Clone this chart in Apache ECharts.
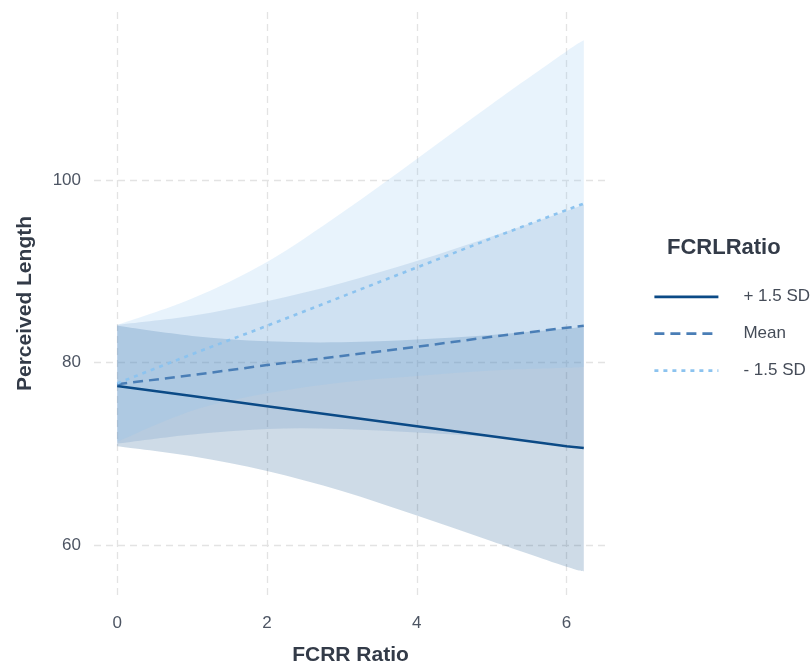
<!DOCTYPE html>
<html>
<head>
<meta charset="utf-8">
<style>
  html, body { margin: 0; padding: 0; background: #ffffff; }
  #chart { width: 812px; height: 671px; }
</style>
<script src="https://cdn.jsdelivr.net/npm/echarts@6/dist/echarts.min.js"></script>
</head>
<body>
<div id="chart"></div>
<script>
// FCRR ratio sample positions
const fcrr = [0, 1, 2, 3, 4, 5, 6, 6.23];

// Predicted perceived length per FCRL level
const plusFit  = [77.4, 76.3, 75.2, 74.1, 73.0, 71.9, 70.8, 70.6];
const meanFit  = [77.6, 78.6, 79.7, 80.7, 81.7, 82.8, 83.8, 84.0];
const minusFit = [77.7, 80.9, 84.0, 87.2, 90.4, 93.6, 96.7, 97.4];

// Confidence band limits
const plusLow   = [70.8, 69.7, 68.1, 65.9, 63.2, 60.4, 57.6, 57.1];
const plusHigh  = [84.0, 82.9, 82.3, 82.2, 82.5, 83.0, 83.7, 83.9];
const meanLow   = [71.1, 72.1, 72.7, 72.7, 72.3, 71.8, 71.0, 70.7];
const meanHigh  = [84.1, 85.1, 86.7, 88.7, 91.1, 93.8, 96.6, 97.3];
const minusLow  = [71.3, 74.7, 76.6, 77.8, 78.5, 79.1, 79.4, 79.5];
const minusHigh = [84.1, 87.0, 91.0, 96.4, 102.3, 108.3, 114.1, 115.3];

const xTicks = [0, 2, 4, 6];
const yTicks = [60, 80, 100];
const levelNames = ['+ 1.5 SD', 'Mean', '- 1.5 SD'];

const FONT = "'Liberation Sans', Arial, sans-serif";
const colors = {
  plus:  '#0b4a86',
  mean:  '#4a7eb6',
  minus: '#8cc3ef'
};

function pairs(ys) { return fcrr.map((x, i) => [x, ys[i]]); }

// Smooth pixel-space curve through points (Catmull-Rom as cubic Beziers)
function curveTo(pts, start) {
  let d = start ? 'M' + pts[0][0] + ' ' + pts[0][1] : 'L' + pts[0][0] + ' ' + pts[0][1];
  for (let i = 0; i < pts.length - 1; i++) {
    const p0 = pts[Math.max(i - 1, 0)];
    const p1 = pts[i];
    const p2 = pts[i + 1];
    const p3 = pts[Math.min(i + 2, pts.length - 1)];
    const c1x = p1[0] + (p2[0] - p0[0]) / 6, c1y = p1[1] + (p2[1] - p0[1]) / 6;
    const c2x = p2[0] - (p3[0] - p1[0]) / 6, c2y = p2[1] - (p3[1] - p1[1]) / 6;
    d += ' C' + c1x + ' ' + c1y + ' ' + c2x + ' ' + c2y + ' ' + p2[0] + ' ' + p2[1];
  }
  return d;
}

function bandSeries(lo, hi, fill) {
  return {
    type: 'custom',
    silent: true,
    z: 1,
    clip: true,
    data: fcrr.map((x, i) => [x, lo[i], hi[i]]),
    encode: { x: 0, y: [1, 2] },
    renderItem: function (params, api) {
      if (params.dataIndexInside !== 0) return null;
      const n = params.dataInsideLength;
      const upper = [], lower = [];
      for (let i = 0; i < n; i++) {
        upper.push(api.coord([api.value(0, i), api.value(2, i)]));
        lower.push(api.coord([api.value(0, i), api.value(1, i)]));
      }
      const d = curveTo(upper, true) + ' ' + curveTo(lower.slice().reverse(), false) + ' Z';
      return {
        type: 'path',
        shape: { pathData: d },
        style: { fill: fill, stroke: null }
      };
    }
  };
}

const chart = echarts.init(document.getElementById('chart'), null, { renderer: 'canvas' });

const option = {
  backgroundColor: '#ffffff',
  animation: false,
  textStyle: { fontFamily: FONT },
  grid: { left: 94, right: 205, top: 12, bottom: 73, containLabel: false },
  title: {
    text: 'FCRLRatio',
    left: 662, top: 232,
    textStyle: { fontFamily: FONT, fontSize: 22, fontWeight: 'bold', color: '#333b48' }
  },
  legend: {
    orient: 'vertical',
    left: 648, top: 283,
    itemWidth: 64, itemHeight: 22,
    itemGap: 15.5 + 3.8,
    data: levelNames,
    itemStyle: { opacity: 0 },
    lineStyle: { width: 2.8 },
    textStyle: { fontFamily: FONT, fontSize: 17, color: '#454c58', padding: [0, 0, 0, 20] },
    selectedMode: false
  },
  xAxis: {
    type: 'value',
    min: -0.31, max: 6.54,
    name: 'FCRR Ratio',
    nameLocation: 'middle',
    nameGap: 50,
    nameTextStyle: { fontFamily: FONT, fontSize: 21, fontWeight: 'bold', color: '#333b48' },
    axisLine: { show: false },
    axisTick: { show: false, customValues: xTicks },
    axisLabel: { customValues: xTicks, margin: 20, fontSize: 17, color: '#4d5563', fontFamily: FONT },
    splitLine: { show: true, lineStyle: { color: '#e3e3e3', width: 1.3, type: [7, 5] } }
  },
  yAxis: {
    type: 'value',
    min: 54.5, max: 118.4,
    name: 'Perceived Length',
    nameLocation: 'middle',
    nameGap: 58,
    nameTextStyle: { fontFamily: FONT, fontSize: 21, fontWeight: 'bold', color: '#333b48' },
    axisLine: { show: false },
    axisTick: { show: false, customValues: yTicks },
    axisLabel: { customValues: yTicks, margin: 13, fontSize: 17, color: '#4d5563', fontFamily: FONT },
    splitLine: { show: true, lineStyle: { color: '#e3e3e3', width: 1.3, type: [7, 5] } }
  },
  series: [
    bandSeries(plusLow,  plusHigh,  'rgba(11,74,134,0.2)'),
    bandSeries(meanLow,  meanHigh,  'rgba(74,126,182,0.17)'),
    bandSeries(minusLow, minusHigh, 'rgba(140,195,239,0.2)'),
    {
      name: levelNames[0], type: 'line', data: pairs(plusFit),
      symbol: 'none', z: 5,
      lineStyle: { color: colors.plus, width: 2.5, type: 'solid' },
      itemStyle: { color: colors.plus }
    },
    {
      name: levelNames[1], type: 'line', data: pairs(meanFit),
      symbol: 'none', z: 5,
      lineStyle: { color: colors.mean, width: 2.5, type: [10, 6] },
      itemStyle: { color: colors.mean }
    },
    {
      name: levelNames[2], type: 'line', data: pairs(minusFit),
      symbol: 'none', z: 5,
      lineStyle: { color: colors.minus, width: 2.6, type: [4, 5] },
      itemStyle: { color: colors.minus }
    }
  ]
};

chart.setOption(option);
</script>
</body>
</html>
